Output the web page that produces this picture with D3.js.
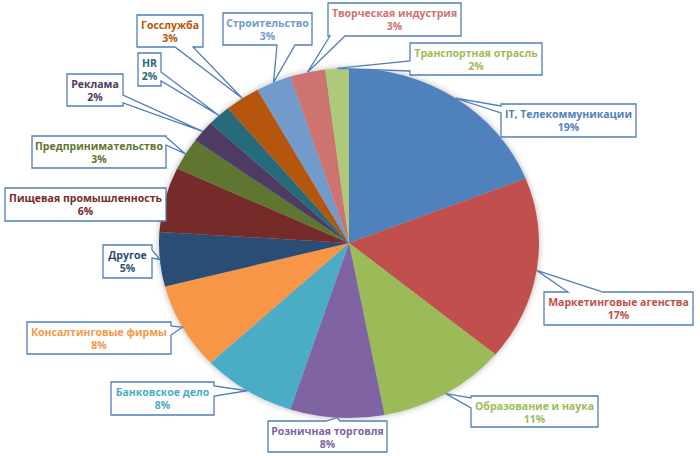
<!DOCTYPE html>
<html><head><meta charset="utf-8">
<script src="https://cdn.jsdelivr.net/npm/d3@7"></script>
<style>body{margin:0;background:#fff}svg{display:block}</style>
</head><body>
<svg id="c" width="700" height="456"></svg>
<script>
const categories = ["IT, Телекоммуникации","Маркетинговые агенства","Образование и наука","Розничная торговля","Банковское дело","Консалтинговые фирмы","Другое","Пищевая промышленность","Предпринимательство","Реклама","HR","Госслужба","Строительство","Творческая индустрия","Транспортная отрасль"];
const values = [19,17,11,8,8,8,5,6,3,2,2,3,3,3,2];
const valueLabels = ["19%","17%","11%","8%","8%","8%","5%","6%","3%","2%","2%","3%","3%","3%","2%"];
const colors = ["#4F81BD","#C0504D","#9BBB59","#8064A2","#4BACC6","#F79646","#2C4D75","#772C2A","#5F7530","#4D3B62","#276A7C","#B65708","#729ACA","#CD7371","#AFC97A"];
const textColors = ["#4F81BD","#C0504D","#9BBB59","#8064A2","#4BACC6","#F79646","#2C4D75","#772C2A","#5F7530","#4D3B62","#276A7C","#B65708","#729ACA","#CD7371","#9BBB59"];
// label box layout: x,y,w,h, side of pointer, pointer base start/end
const boxes = [
 {x:501,y:104,w:135,h:33,side:"left",a0:106,a1:113},
 {x:544,y:292,w:149,h:33,side:"top",a0:568,a1:603},
 {x:471,y:396,w:127,h:31,side:"left",a0:398,a1:408},
 {x:268,y:421,w:119,h:31,side:"top",a0:326,a1:340},
 {x:111,y:382,w:103,h:33,side:"right",a0:386,a1:396},
 {x:27,y:322,w:144,h:32,side:"right",a0:326,a1:335},
 {x:103,y:245,w:49,h:33,side:"right",a0:250,a1:258},
 {x:5,y:188,w:161,h:33,side:"none"},
 {x:32,y:136,w:134,h:32,side:"right",a0:137,a1:145},
 {x:67,y:74,w:56,h:32,side:"right",a0:95,a1:103},
 {x:138,y:53,w:23,h:33,side:"right",a0:72,a1:81},
 {x:137,y:15,w:66,h:32,side:"bottom",a0:175,a1:193},
 {x:223,y:13,w:89,h:32,side:"bottom",a0:277,a1:295},
 {x:328,y:3,w:133,h:33,side:"bottom",a0:330,a1:345},
 {x:410,y:43,w:132,h:32,side:"left",a0:61,a1:71}
];
const cx = 349, cy = 243, rx = 190, ry = 175;
const svg = d3.select("#c");
const defs = svg.append("defs");
const f = defs.append("filter").attr("id","sh").attr("x","-20%").attr("y","-20%").attr("width","140%").attr("height","140%");
f.append("feDropShadow").attr("dx",0).attr("dy",0).attr("stdDeviation",3).attr("flood-color","#000").attr("flood-opacity",0.3);

const pie = d3.pie().sort(null).value(d=>d)(values);
const arc = d3.arc().innerRadius(0).outerRadius(ry);
const g = svg.append("g").attr("transform",`translate(${cx},${cy}) scale(${rx/ry},1)`).attr("filter","url(#sh)");
g.selectAll("path").data(pie).join("path").attr("d",arc).attr("fill",(d,i)=>colors[i]);

function tipOf(d){
  const a=(d.startAngle+d.endAngle)/2;
  return [cx+Math.sin(a)*rx, cy-Math.cos(a)*ry];
}
function callout(b,t){
  const {x,y,w,h}=b; let p=`M${x},${y}`;
  if(b.side==="top") p+=`L${b.a0},${y}L${t[0]},${t[1]}L${b.a1},${y}`;
  p+=`L${x+w},${y}`;
  if(b.side==="right") p+=`L${x+w},${b.a0}L${t[0]},${t[1]}L${x+w},${b.a1}`;
  p+=`L${x+w},${y+h}`;
  if(b.side==="bottom") p+=`L${b.a1},${y+h}L${t[0]},${t[1]}L${b.a0},${y+h}`;
  p+=`L${x},${y+h}`;
  if(b.side==="left") p+=`L${x},${b.a1}L${t[0]},${t[1]}L${x},${b.a0}`;
  return p+"Z";
}
const lg = svg.append("g");
pie.forEach((d,i)=>{
  const b=boxes[i], t=tipOf(d);
  lg.append("path").attr("d",callout(b,t)).attr("fill","#fff").attr("stroke","#4F7FBC").attr("stroke-width",1.3).attr("stroke-linejoin","miter");
  const tx=lg.append("text").attr("text-anchor","middle").attr("font-family","Open Sans, sans-serif").attr("font-weight","bold").attr("font-size","10.5px").attr("fill",textColors[i]);
  tx.append("tspan").attr("x",b.x+b.w/2).attr("y",b.y+14).text(categories[i]);
  tx.append("tspan").attr("x",b.x+b.w/2).attr("y",b.y+27).text(valueLabels[i]);
});
</script>
</body></html>
